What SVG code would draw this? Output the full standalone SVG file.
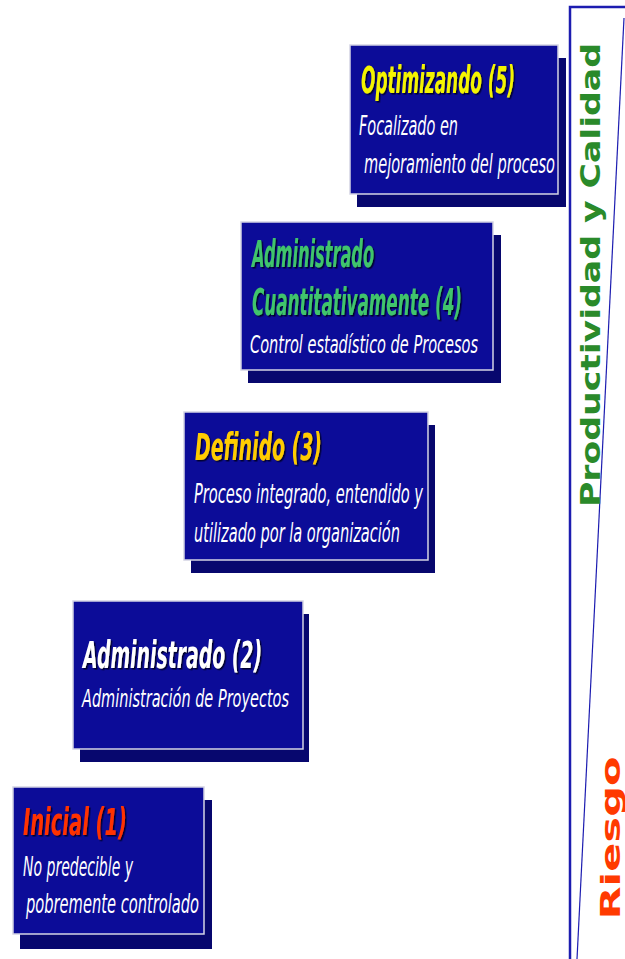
<svg xmlns="http://www.w3.org/2000/svg" width="625" height="959" viewBox="0 0 625 959">
  <style>
    .box { fill: #0c0c98; stroke: #d4d4e4; stroke-width: 1.5; }
    .shadow { fill: #07076e; }
    .title { font-family: "DejaVu Sans Condensed", "DejaVu Sans", Verdana, sans-serif; font-stretch: condensed; font-weight: bold; font-style: italic; font-size: 37px; filter: url(#txtShadow); }
    .sub { font-family: "DejaVu Sans Condensed", "DejaVu Sans", Verdana, sans-serif; font-stretch: condensed; font-style: italic; font-size: 27px; fill: #ffffff; }
    .sub.small { font-size: 25px; }
    .axis { font-family: "DejaVu Sans", Verdana, sans-serif; font-weight: bold; font-size: 27px; }
    .scaleLine { fill: none; stroke: #1c1cb0; }
  </style>
  <defs>
    <filter id="txtShadow" x="-30%" y="-30%" width="160%" height="160%">
      <feDropShadow dx="1.5" dy="1.5" stdDeviation="0.6" flood-color="#000022" flood-opacity="0.9"/>
    </filter>
  </defs>

  <rect width="625" height="959" fill="#ffffff"/>

  <!-- maturity scale on the right -->
  <g id="scale">
    <polyline class="scaleLine" stroke-width="2.5" points="625,7 570,7 570,959"/>
    <line class="scaleLine" stroke-width="1.2" x1="624" y1="18" x2="577" y2="959"/>
    <text class="axis" fill="#2a8a2a" transform="translate(600,275) rotate(-90)" text-anchor="middle" textLength="464" lengthAdjust="spacingAndGlyphs">Productividad y Calidad</text>
    <text class="axis" fill="#ff3a00" transform="translate(620,838) rotate(-90)" text-anchor="middle" textLength="163" lengthAdjust="spacingAndGlyphs">Riesgo</text>
  </g>

  <!-- level 1 -->
  <g id="level1">
    <rect class="shadow" x="20" y="800" width="192" height="149"/>
    <rect class="box" x="13" y="787" width="191" height="147"/>
    <text class="title" fill="#ff3300" x="23" y="835" textLength="104" lengthAdjust="spacingAndGlyphs">Inicial (1)</text>
    <text class="sub" x="23" y="876" textLength="110" lengthAdjust="spacingAndGlyphs">No predecible y</text>
    <text class="sub" x="26" y="913" textLength="173" lengthAdjust="spacingAndGlyphs">pobremente controlado</text>
  </g>

  <!-- level 2 -->
  <g id="level2">
    <rect class="shadow" x="80" y="614" width="229" height="148"/>
    <rect class="box" x="73" y="601" width="230" height="148"/>
    <text class="title" fill="#ffffff" x="83" y="668" textLength="179" lengthAdjust="spacingAndGlyphs">Administrado (2)</text>
    <text class="sub small" x="82" y="707" textLength="207" lengthAdjust="spacingAndGlyphs">Administración de Proyectos</text>
  </g>

  <!-- level 3 -->
  <g id="level3">
    <rect class="shadow" x="191" y="425" width="244" height="148"/>
    <rect class="box" x="184" y="412" width="244" height="148"/>
    <text class="title" fill="#ffcc00" x="195" y="460" textLength="127" lengthAdjust="spacingAndGlyphs">Definido (3)</text>
    <text class="sub" x="194" y="503" textLength="229" lengthAdjust="spacingAndGlyphs">Proceso integrado, entendido y</text>
    <text class="sub" x="194" y="542" textLength="206" lengthAdjust="spacingAndGlyphs">utilizado por la organización</text>
  </g>

  <!-- level 4 -->
  <g id="level4">
    <rect class="shadow" x="248" y="235" width="253" height="148"/>
    <rect class="box" x="241" y="222" width="252" height="148"/>
    <text class="title" fill="#3fc46c" x="252" y="267" textLength="122" lengthAdjust="spacingAndGlyphs">Administrado</text>
    <text class="title" fill="#3fc46c" x="252" y="315" textLength="210" lengthAdjust="spacingAndGlyphs">Cuantitativamente (4)</text>
    <text class="sub small" x="250" y="353" textLength="228" lengthAdjust="spacingAndGlyphs">Control estadístico de Procesos</text>
  </g>

  <!-- level 5 -->
  <g id="level5">
    <rect class="shadow" x="357" y="58" width="209" height="149"/>
    <rect class="box" x="350" y="45" width="208" height="149"/>
    <text class="title" fill="#f4f400" x="361" y="93" textLength="154" lengthAdjust="spacingAndGlyphs">Optimizando (5)</text>
    <text class="sub" x="359" y="135" textLength="99" lengthAdjust="spacingAndGlyphs">Focalizado en</text>
    <text class="sub" x="364" y="173" textLength="191" lengthAdjust="spacingAndGlyphs">mejoramiento del proceso</text>
  </g>
</svg>
